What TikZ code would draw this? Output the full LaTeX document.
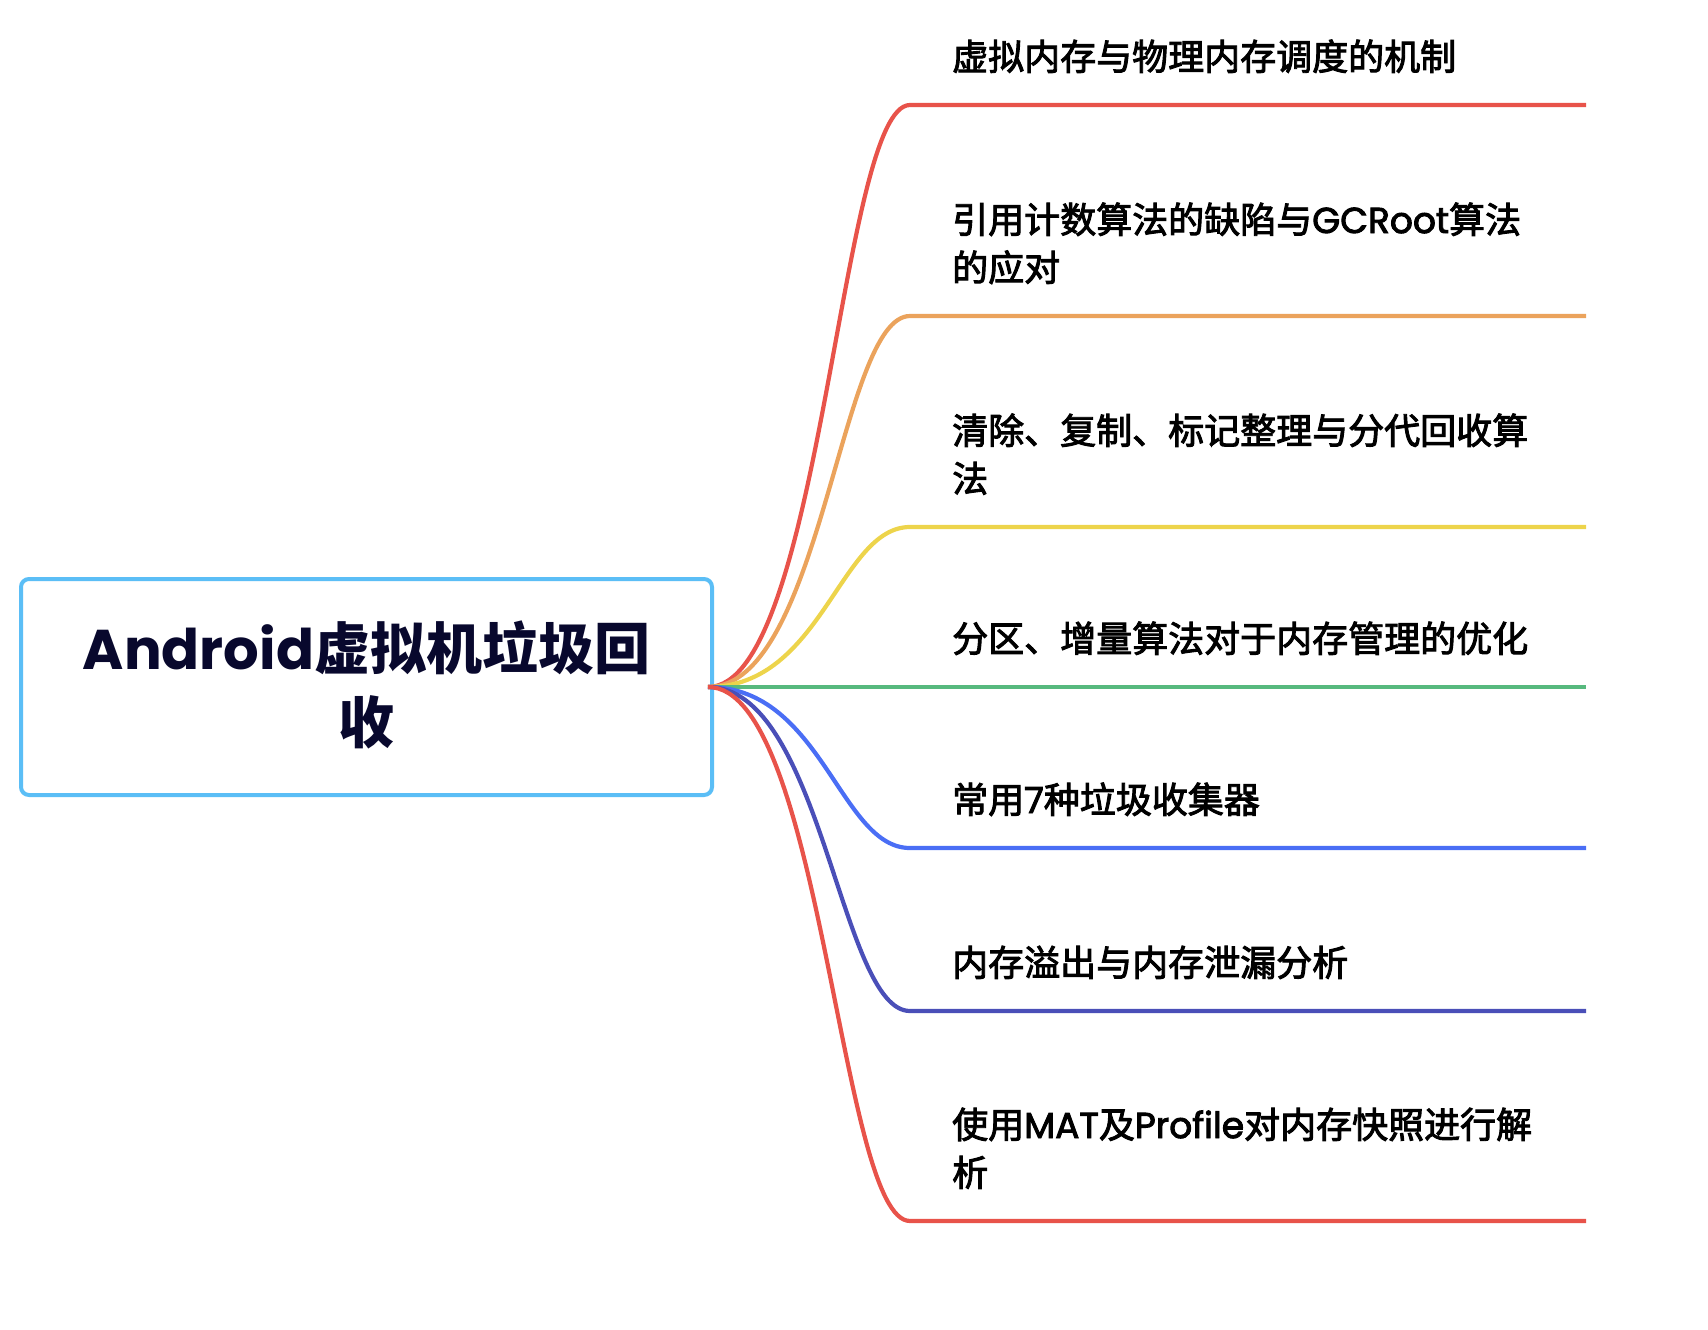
\documentclass[tikz,border=0pt]{standalone}
\usepackage{fontspec}
\newfontfamily\cjk{Noto Sans CJK SC}
\newfontfamily\cjkm{Noto Sans CJK SC}[FakeBold=2.6]
\newfontfamily\pop{Poppins}
\newfontfamily\popm{Poppins}[FakeBold=2.6]
\definecolor{boxblue}{RGB}{91,190,246}
\definecolor{titlecol}{RGB}{8,8,45}
\definecolor{cRed}{RGB}{232,83,74}
\definecolor{cOrange}{RGB}{235,163,92}
\definecolor{cYellow}{RGB}{237,212,75}
\definecolor{cGreen}{RGB}{87,185,126}
\definecolor{cBlue}{RGB}{74,110,245}
\definecolor{cIndigo}{RGB}{74,79,184}
\newcommand\lat[1]{{\pop\bfseries #1}}
\newcommand\latm[1]{{\popm #1}}
\tikzset{
  rootbox/.style={draw=boxblue, line width=4pt, rounded corners=8pt, fill=white,
    minimum width=691pt, minimum height=216pt, inner sep=0pt, outer sep=0pt},
  btext/.style={anchor=base west, inner sep=0pt, text=black},
  branch/.style={line width=4.2pt, line cap=butt}
}
\newcommand\btxt[1]{\parbox[b]{700pt}{\raggedright\cjkm\fontsize{36}{48}\selectfont #1}}
\begin{document}
\begin{tikzpicture}[x=1pt,y=-1pt]
\useasboundingbox (0,0) rectangle (1708,1330);
\node[rootbox] (root) at (366.5,687) {};
\node[anchor=base, inner sep=0pt, text=titlecol] (title) at (366.5,743)
  {\parbox[b]{680pt}{\centering\cjk\bfseries\fontsize{56}{74}\selectfont \lat{Android}虚拟机垃圾回\\收}};
% branch start/end coordinates
\coordinate (o) at ([xshift=-4pt]root.east);
\coordinate (s1) at (910,105);  \coordinate (f1) at (1586,105);
\coordinate (s2) at (910,316);  \coordinate (f2) at (1586,316);
\coordinate (s3) at (910,527);  \coordinate (f3) at (1586,527);
\coordinate (s4) at (910,687);  \coordinate (f4) at (1586,687);
\coordinate (s5) at (910,848);  \coordinate (f5) at (1586,848);
\coordinate (s6) at (910,1011); \coordinate (f6) at (1586,1011);
\coordinate (s7) at (910,1221); \coordinate (f7) at (1586,1221);
% texts
\node[btext] (t1) at (952,70)   {\btxt{虚拟内存与物理内存调度的机制}};
\node[btext] (t2) at (952,281)  {\btxt{引用计数算法的缺陷与\latm{GCRoot}算法\\的应对}};
\node[btext] (t3) at (952,492)  {\btxt{清除、复制、标记整理与分代回收算\\法}};
\node[btext] (t4) at (952,652)  {\btxt{分区、增量算法对于内存管理的优化}};
\node[btext] (t5) at (952,813)  {\btxt{常用\latm{7}种垃圾收集器}};
\node[btext] (t6) at (952,976)  {\btxt{内存溢出与内存泄漏分析}};
\node[btext] (t7) at (952,1186) {\btxt{使用\latm{MAT}及\latm{Profile}对内存快照进行解\\析}};
% connectors
\draw[branch, cRed]    (o) .. controls +(114,0) and +(-70,0) .. (s1) -- (f1);
\draw[branch, cOrange] (o) .. controls +(114,0) and +(-70,0) .. (s2) -- (f2);
\draw[branch, cYellow] (o) .. controls +(114,0) and +(-70,0) .. (s3) -- (f3);
\draw[branch, cGreen]  (o) -- (s4) -- (f4);
\draw[branch, cBlue]   (o) .. controls +(114,0) and +(-70,0) .. (s5) -- (f5);
\draw[branch, cIndigo] (o) .. controls +(114,0) and +(-70,0) .. (s6) -- (f6);
\draw[branch, cRed]    (o) .. controls +(114,0) and +(-70,0) .. (s7) -- (f7);
\end{tikzpicture}
\end{document}
